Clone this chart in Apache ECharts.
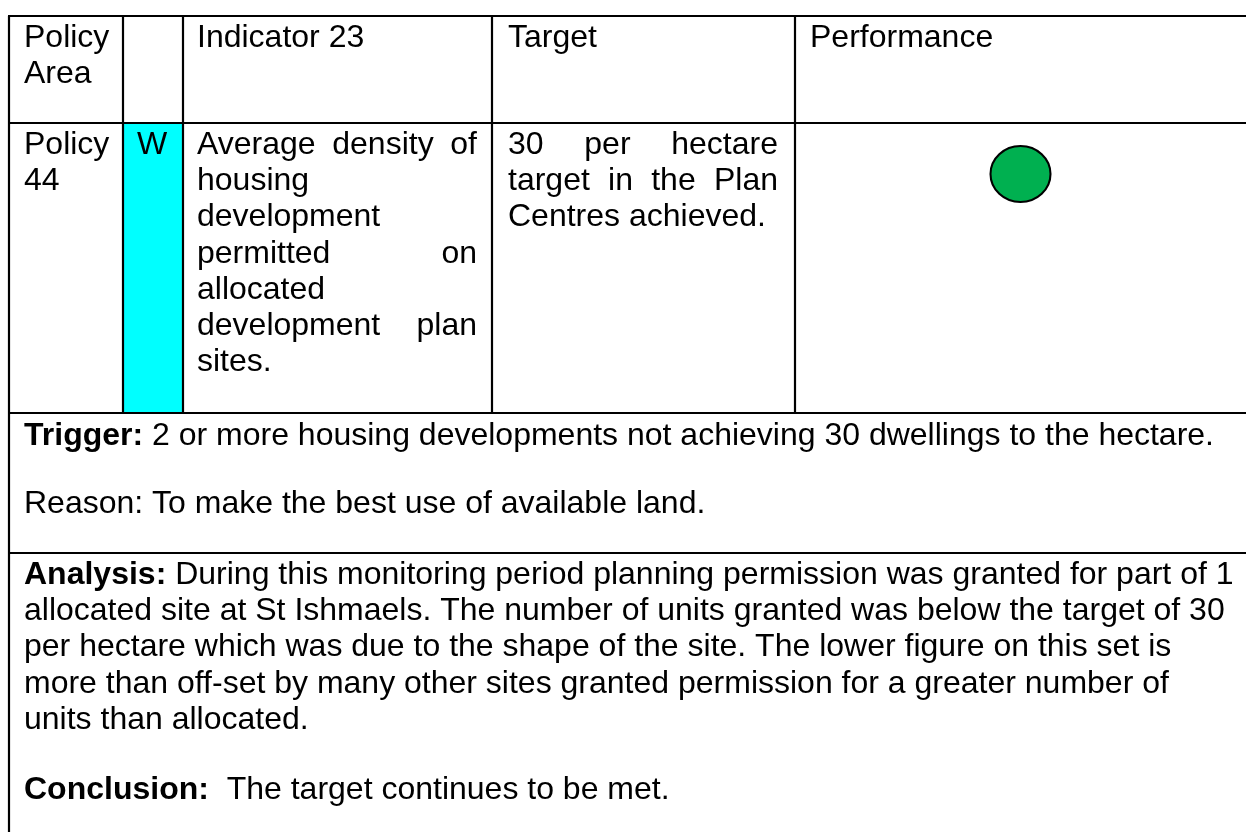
<!DOCTYPE html>
<html>
<head>
<meta charset="utf-8">
<script src="https://cdn.jsdelivr.net/npm/echarts@6/dist/echarts.min.js"></script>
<style>
html,body{margin:0;padding:0;background:#fff;}
#main{width:1246px;height:832px;}
</style>
</head>
<body>
<div id="main"></div>
<script>
// ---- data ----
const headerCells = ['Policy\nArea', '', 'Indicator 23', 'Target', 'Performance'];
const policyLines = ['Policy', '44'];
const codeLabel = 'W';
const indicatorLines = ['Average density of', 'housing', 'development', 'permitted on', 'allocated', 'development plan', 'sites.'];
const targetLines = ['30 per hectare', 'target in the Plan', 'Centres achieved.'];
const performanceStatus = [['Policy 44', 'Indicator 23']]; // green = target met
const triggerLabel = 'Trigger:';
const triggerText = ' 2 or more housing developments not achieving 30 dwellings to the hectare.';
const reasonText = 'Reason: To make the best use of available land.';
const analysisLabel = 'Analysis:';
const analysisLines = [
  ' During this monitoring period planning permission was granted for part of 1',
  'allocated site at St Ishmaels. The number of units granted was below the target of 30',
  'per hectare which was due to the shape of the site. The lower figure on this set is',
  'more than off-set by many other sites granted permission for a greater number of',
  'units than allocated.'
];
const conclusionLabel = 'Conclusion:';
const conclusionText = '  The target continues to be met.';

// ---- layout ----
const FF = '"Liberation Sans", Arial, sans-serif';
const FS = 32;
const LH = 36.3;
const BASE_OFF = 8; // baseline minus middle (calibrated)
const colX = [9, 123, 183, 492, 795, 1246];
const rowY = [16, 123, 413, 553];

const mctx = document.createElement('canvas').getContext('2d');
function tw(t, bold) {
  mctx.font = (bold ? 'bold ' : '') + FS + 'px ' + FF;
  return mctx.measureText(t).width;
}
const g = [];
function txt(t, x, baseline, opts) {
  opts = opts || {};
  g.push({
    type: 'text', x: x, y: baseline - BASE_OFF, silent: true,
    style: {
      text: t, fontSize: FS, fontFamily: FF, fontWeight: opts.bold ? 'bold' : 'normal',
      fill: '#000', align: opts.align || 'left', verticalAlign: 'middle'
    }
  });
}
function para(lines, x0, x1, baseline0) {
  lines.forEach((ln, i) => {
    const y = baseline0 + i * LH;
    const words = ln.split(' ');
    const last = i === lines.length - 1;
    if (last || words.length < 2) { txt(ln, x0, y); return; }
    const widths = words.map(w => tw(w));
    const sum = widths.reduce((a, b) => a + b, 0);
    const gap = (x1 - x0 - sum) / (words.length - 1);
    let x = x0;
    words.forEach((w, k) => { txt(w, x, y); x += widths[k] + gap; });
  });
}
function labelled(label, rest, x, baseline) {
  txt(label, x, baseline, { bold: true });
  txt(rest, x + tw(label, true), baseline);
}

// cyan code cell
g.push({ type: 'rect', shape: { x: colX[1], y: rowY[1], width: colX[2] - colX[1], height: rowY[2] - rowY[1] }, style: { fill: '#00FFFF' }, silent: true });

// grid lines
const LW = 2.2;
rowY.forEach(y => g.push({ type: 'line', shape: { x1: colX[0] - 1, y1: y, x2: 1246, y2: y }, style: { stroke: '#000', lineWidth: LW }, silent: true }));
g.push({ type: 'line', shape: { x1: colX[0], y1: rowY[0], x2: colX[0], y2: 832 }, style: { stroke: '#000', lineWidth: LW }, silent: true });
colX.slice(1, 5).forEach(x => g.push({ type: 'line', shape: { x1: x, y1: rowY[0], x2: x, y2: rowY[2] }, style: { stroke: '#000', lineWidth: LW }, silent: true }));

// header row
const hdrBase = 46.3;
headerCells[0].split('\n').forEach((t, i) => txt(t, 24, hdrBase + i * LH));
txt(headerCells[2], 197, hdrBase);
txt(headerCells[3], 508, hdrBase);
txt(headerCells[4], 810, hdrBase);

// body row
const rowBase = 152.8;
policyLines.forEach((t, i) => txt(t, 24, rowBase + i * LH));
txt(codeLabel, 152, rowBase, { align: 'center' });
para(indicatorLines, 197, 477, rowBase);
para(targetLines, 508, 778, rowBase);

// trigger / reason
labelled(triggerLabel, triggerText, 24, 444.3);
txt(reasonText, 24, 511.8);

// analysis
labelled(analysisLabel, analysisLines[0], 24, 582.7);
analysisLines.slice(1).forEach((t, i) => txt(t, 24, 582.7 + (i + 1) * 36.4));
labelled(conclusionLabel, conclusionText, 24, 798.3);

const chart = echarts.init(document.getElementById('main'), null, { renderer: 'canvas' });
chart.setOption({
  backgroundColor: '#fff',
  animation: false,
  grid: { left: 795, width: 451, top: 146, height: 56 },
  xAxis: { type: 'category', data: ['Policy 44'], show: false },
  yAxis: { type: 'category', data: ['Indicator 23'], show: false },
  series: [{
    type: 'scatter', data: performanceStatus, symbol: 'circle', symbolSize: [60, 56],
    itemStyle: { color: '#00B050', borderColor: '#000', borderWidth: 2, opacity: 1 },
    z: 10, silent: true
  }],
  graphic: { elements: g }
});
</script>
</body>
</html>
